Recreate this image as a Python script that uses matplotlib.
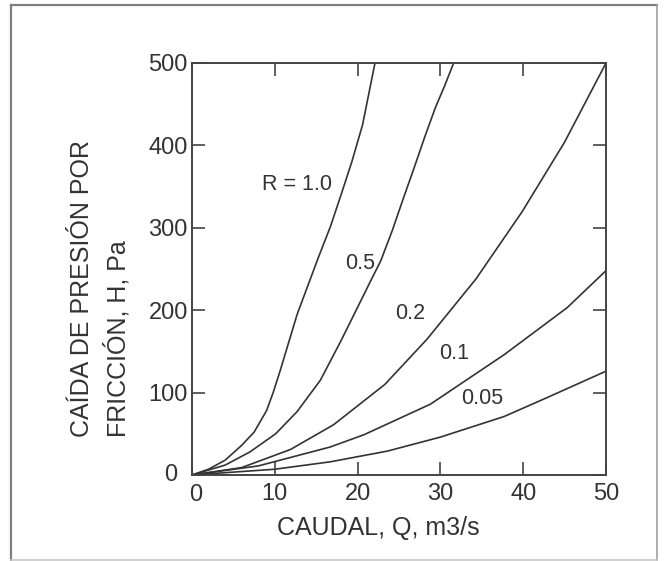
import matplotlib
matplotlib.use("Agg")
import matplotlib.pyplot as plt
from matplotlib.lines import Line2D
from matplotlib.ticker import FuncFormatter

plt.rcParams['font.family'] = ['Liberation Sans', 'DejaVu Sans']

# curves: caudal Q (m3/s) vs caida de presion H (Pa)
q_r100 = [0, 2, 4, 6, 7.5, 9, 9.8, 10.6, 11.5, 12.7, 14.0, 15.3, 16.7, 18.0, 19.3, 20.6, 22.1]
h_r100 = [0, 7, 18, 36, 52, 78, 100, 125, 155, 195, 230, 265, 301, 340, 380, 425, 500]

q_r050 = [0, 4, 7, 10.1, 12.7, 15.5, 18.0, 21.6, 22.8, 24.2, 25.5, 26.8, 28.1, 29.4, 30.5, 31.6]
h_r050 = [0, 12, 28, 50, 77, 115, 163, 236, 260, 297, 335, 372, 410, 446, 472, 500]

q_r020 = [0, 6, 11.9, 17.1, 23.3, 28.4, 34.3, 39.9, 45.0, 50.0]
h_r020 = [0, 9, 31, 61, 110, 165, 238, 320, 404, 500]

q_r010 = [0, 8, 16.7, 20.8, 28.8, 37.7, 45.3, 50.0]
h_r010 = [0, 11, 34, 49, 86, 146, 203, 248]

q_r005 = [0, 10, 16.7, 23.6, 30.0, 37.7, 42.9, 50.0]
h_r005 = [0, 7, 16, 29, 46, 71, 94, 126]

curves = [(q_r100, h_r100), (q_r050, h_r050), (q_r020, h_r020),
          (q_r010, h_r010), (q_r005, h_r005)]

# curve labels and where they sit (Q, H)
curve_labels = ['R = 1.0', '0.5', '0.2', '0.1', '0.05']
label_q = [12.7, 20.3, 26.4, 31.6, 35.0]
label_h = [352, 257, 196, 148, 93]

x_ticks = [0, 10, 20, 30, 40, 50]
y_ticks = [0, 100, 200, 300, 400, 500]

ink = '#333333'

fig = plt.figure(figsize=(6.66, 5.61), dpi=100)
ax = fig.add_axes([192 / 666, 1 - 475 / 561, 414 / 666, 412 / 561])

for q, h in curves:
    ax.plot(q, h, color=ink, lw=1.2, solid_joinstyle='round')

for txt, q, h in zip(curve_labels, label_q, label_h):
    ax.text(q, h, txt, fontsize=15.5, color=ink, ha='center', va='center')

ax.set_xlim(0, 50)
ax.set_ylim(0, 500)
ax.set_xticks(x_ticks)
ax.set_yticks(y_ticks)

# the two zeros at the corner are drawn by hand, a little off the corner
ax.xaxis.set_major_formatter(FuncFormatter(lambda v, p: '' if v == 0 else f'{v:g}'))
ax.yaxis.set_major_formatter(FuncFormatter(lambda v, p: '' if v == 0 else f'{v:g}'))
ax.annotate('0', xy=(0, 0), xytext=(-15, 0), textcoords='offset pixels',
            ha='right', va='center', fontsize=17, color=ink)
ax.annotate('0', xy=(0, 0), xytext=(4, -9), textcoords='offset pixels',
            ha='center', va='top', fontsize=17, color=ink)

ax.tick_params(direction='in', length=9.5, width=1.2, color='#444444',
               labelsize=17, labelcolor=ink, top=True, right=True)
ax.tick_params(axis='y', pad=3)
ax.tick_params(axis='x', pad=6)
for s in ax.spines.values():
    s.set_color('#444444')
    s.set_linewidth(1.4)

fig.text(82 / 666, 1 - 437 / 561, 'CAÍDA DE PRESIÓN POR', rotation=90,
         ha='center', va='bottom', fontsize=18, color=ink)
fig.text(117 / 666, 1 - 437 / 561, 'FRICCIÓN, H, Pa', rotation=90,
         ha='center', va='bottom', fontsize=18, color=ink)
fig.text(378 / 666, 1 - 528 / 561, 'CAUDAL, Q, m3/s',
         ha='center', va='center', fontsize=18, color=ink)

# grey frame round the whole picture
fig.add_artist(Line2D([11 / 666, 11 / 666], [1 - 560 / 561, 1 - 5 / 561],
                      color='#808080', lw=1.6))
fig.add_artist(Line2D([11 / 666, 657 / 666], [1 - 5 / 561, 1 - 5 / 561],
                      color='#808080', lw=1.6))
fig.add_artist(Line2D([657 / 666, 657 / 666], [1 - 560 / 561, 1 - 5 / 561],
                      color='#a0a0a0', lw=1.2))
fig.add_artist(Line2D([11 / 666, 657 / 666], [1 - 560 / 561, 1 - 560 / 561],
                      color='#c8c8c8', lw=1.2))

fig.savefig('out.png', dpi=100)
